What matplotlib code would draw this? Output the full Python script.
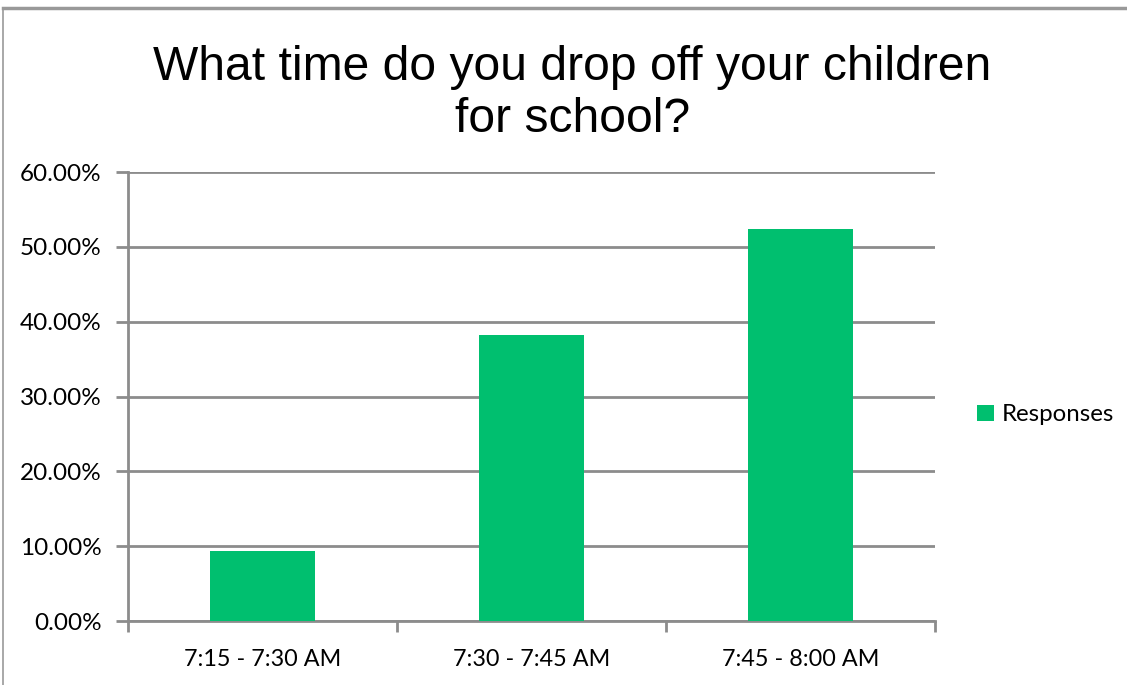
import numpy as np
import matplotlib
matplotlib.use('Agg')
import matplotlib.pyplot as plt
from matplotlib.ticker import FixedLocator, FuncFormatter
from matplotlib.lines import Line2D

# data
categories = ['7:15 - 7:30 AM', '7:30 - 7:45 AM', '7:45 - 8:00 AM']
responses = [9.3, 38.2, 52.4]
yticks = [0, 10, 20, 30, 40, 50, 60]
title_lines = ['What time do you drop off your children', 'for school?']

green = '#00BF6F'
grid_gray = '#8C8C8C'
label_font = ['Lato', 'DejaVu Sans']

fig = plt.figure(figsize=(11.27, 6.85), dpi=100)
ax = fig.add_axes([0.1136, 0.0934, 0.716, 0.6555])

x = np.arange(len(categories))
ax.bar(x, responses, width=0.39, color=green, label='Responses', zorder=3)

ax.set_xlim(-0.5, len(categories) - 0.5)
ax.set_ylim(0, 60)

ax.yaxis.set_major_locator(FixedLocator(yticks))
ax.yaxis.set_major_formatter(FuncFormatter(lambda v, p: f"{v:.2f}%"))
ax.grid(axis='y', color=grid_gray, linewidth=2, zorder=0)

# category boundaries carry the ticks, labels sit in the middle
ax.xaxis.set_major_locator(FixedLocator(np.arange(len(categories) + 1) - 0.5))
ax.xaxis.set_major_formatter(FuncFormatter(lambda v, p: ''))
ax.xaxis.set_minor_locator(FixedLocator(x))
ax.set_xticklabels(categories, minor=True)
ax.tick_params(axis='x', which='major', direction='out', length=8, width=2, color=grid_gray)
ax.tick_params(axis='x', which='minor', length=0, pad=20)
ax.tick_params(axis='y', direction='out', length=9, width=2, color=grid_gray, pad=10)
for lab in ax.get_xticklabels(minor=True):
	lab.set_family(label_font)
	lab.set_fontsize(16.8)
for lab in ax.get_yticklabels():
	lab.set_family(label_font)
	lab.set_fontsize(17.5)

for side in ['top', 'right']:
	ax.spines[side].set_visible(False)
for side in ['left', 'bottom']:
	ax.spines[side].set_color(grid_gray)
	ax.spines[side].set_linewidth(2)

# two title lines placed by baseline
title_font = ['Liberation Sans', 'DejaVu Sans']
fig.text(0.508, 1 - 80 / 685, title_lines[0], ha='center', va='baseline',
	fontsize=34.6, family=title_font)
fig.text(0.508, 1 - 132 / 685, title_lines[1], ha='center', va='baseline',
	fontsize=34.6, family=title_font)

ax.legend(loc='center left', bbox_to_anchor=(1.025, 0.459), frameon=False,
	handlelength=0.7, handleheight=0.7, handletextpad=0.35,
	prop={'family': label_font, 'size': 17.3})

# outer chart frame, partly cut off at top/left
fig.add_artist(Line2D([3 / 1127, 1], [1 - 8 / 685, 1 - 8 / 685], color='#999999', linewidth=2.5))
fig.add_artist(Line2D([3 / 1127, 3 / 1127], [0, 1 - 8 / 685], color='#999999', linewidth=1.2))

plt.savefig('out.png', dpi=100)
